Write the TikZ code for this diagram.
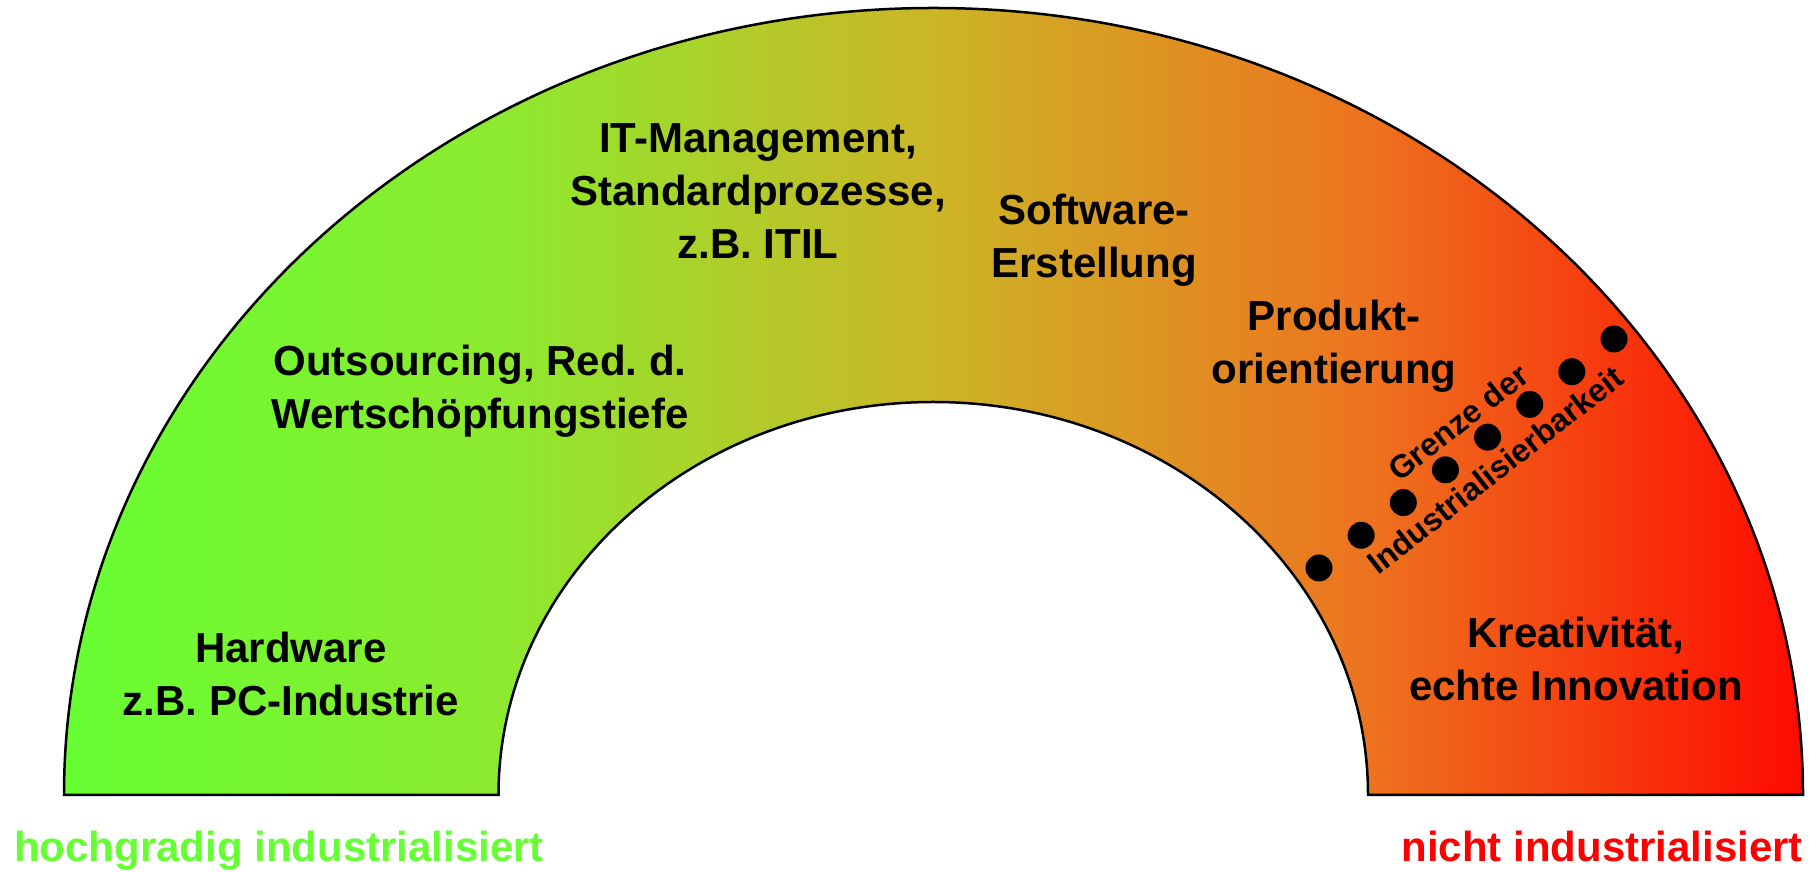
\documentclass[tikz,border=0pt]{standalone}
\usepackage{fontspec}
\setmainfont{Liberation Sans}
\frenchspacing
\pgfdeclarehorizontalshading{indgrad}{100bp}{rgb(0bp)=(0.4,1,0.2); rgb(25bp)=(0.4,1,0.2); rgb(37.5bp)=(0.55,0.92,0.18); rgb(50bp)=(0.8,0.71,0.15); rgb(62.5bp)=(0.93,0.45,0.12); rgb(75bp)=(1,0.04,0); rgb(100bp)=(1,0.04,0)}
\definecolor{hgreen}{RGB}{102,255,51}
\definecolor{nred}{RGB}{255,0,0}
\begin{document}
\begin{tikzpicture}[x=1pt,y=1pt,
  lbl/.style={font=\bfseries\frenchspacing\fontsize{42}{53}\selectfont, align=center, inner sep=0pt, anchor=base},
  rot/.style={font=\bfseries\fontsize{32}{38}\selectfont, inner sep=0pt, rotate=38},
  dotnode/.style={circle, fill=black, minimum size=27pt, inner sep=0pt}]
\useasboundingbox (0,0) rectangle (1818,872);
\shadedraw[shading=indgrad, line width=2.5pt, line join=miter] (64,77) arc[start angle=180, end angle=0, x radius=869.5, y radius=787] -- (1368,77) arc[start angle=0, end angle=180, x radius=434.75, y radius=393] -- cycle;
\node[lbl] (hw) at (291,156) {Hardware\\z.B. PC-Industrie};
\node[lbl] (out) at (480,443) {Outsourcing, Red. d.\\Wertschöpfungstiefe};
\node[lbl] (itm) at (758,613) {IT-Management,\\Standardprozesse,\\z.B. ITIL};
\node[lbl] (sw) at (1094,594) {Software-\\Erstellung};
\node[lbl] (prod) at (1334,488) {Produkt-\\orientierung};
\node[lbl] (krea) at (1576,171) {Kreativität,\\echte Innovation};
\node[lbl, anchor=base west, text=hgreen] (hoch) at (14,10) {hochgradig industrialisiert};
\node[lbl, anchor=base east, text=nred] (nicht) at (1803,10) {nicht industrialisiert};
\foreach \i in {0,...,7} \node[dotnode] (d\i) at ({1319+\i*295/7},{304+\i*229/7}) {};
\node[rot] (gr) at (1458,450) {Grenze der};
\node[rot] (ind) at (1495,402) {Industrialisierbarkeit};
\end{tikzpicture}
\end{document}
